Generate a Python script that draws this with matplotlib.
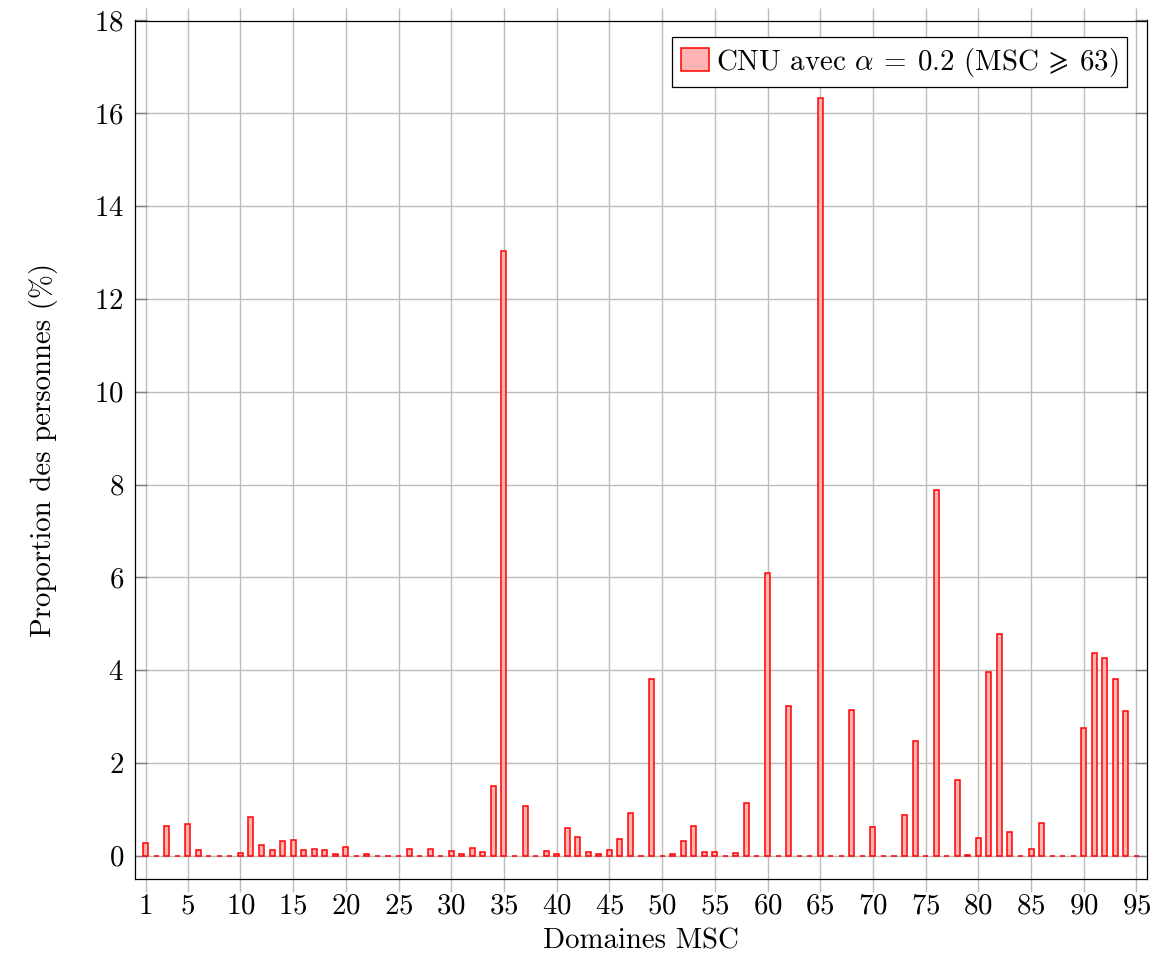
import numpy as np
import matplotlib
matplotlib.use('Agg')
import matplotlib.pyplot as plt

plt.rcParams['font.family'] = 'serif'
plt.rcParams['font.serif'] = ['cmr10', 'DejaVu Serif']
plt.rcParams['mathtext.fontset'] = 'cm'
plt.rcParams['axes.formatter.use_mathtext'] = True

# MSC domain codes 1..95 and share of persons (%)
msc_codes = list(range(1, 96))
proportions = [
    0.27, 0.00, 0.65, 0.00, 0.69, 0.13, 0.00, 0.00, 0.00, 0.06,   # 1-10
    0.84, 0.24, 0.13, 0.32, 0.33, 0.13, 0.14, 0.13, 0.04, 0.18,   # 11-20
    0.00, 0.03, 0.00, 0.00, 0.00, 0.15, 0.00, 0.15, 0.00, 0.11,   # 21-30
    0.03, 0.17, 0.09, 1.50, 13.04, 0.00, 1.08, 0.00, 0.11, 0.03,  # 31-40
    0.60, 0.40, 0.09, 0.03, 0.12, 0.37, 0.93, 0.00, 3.81, 0.00,   # 41-50
    0.04, 0.32, 0.64, 0.08, 0.08, 0.00, 0.05, 1.13, 0.00, 6.09,   # 51-60
    0.00, 3.22, 0.00, 0.00, 16.33, 0.00, 0.00, 3.14, 0.00, 0.62,  # 61-70
    0.00, 0.00, 0.88, 2.48, 0.00, 7.88, 0.00, 1.64, 0.02, 0.39,   # 71-80
    3.97, 4.77, 0.51, 0.00, 0.14, 0.70, 0.00, 0.00, 0.00, 2.76,   # 81-90
    4.36, 4.27, 3.81, 3.13, 0.00,                                 # 91-95
]
x_ticks = [1] + list(range(5, 96, 5))
y_ticks = list(range(0, 19, 2))
legend_label = r'CNU avec $\alpha\:=\:0.2$ (MSC$\:\geqslant\:$63)'

fs = 20.8

fig = plt.figure(figsize=(11.56, 9.6), dpi=100)
ax = fig.add_axes([135/1156, 1 - 879/960, 1012/1156, 858.5/960])

ax.bar(msc_codes, proportions, width=0.48, color='#ffb3b3', edgecolor='red',
       linewidth=1.1, label=legend_label, zorder=3)

ax.set_xlim(0, 96)
ax.set_ylim(-0.5, 18)
ax.set_xticks(x_ticks)
ax.set_yticks(y_ticks)
ax.grid(True, color='#bcbcbc', linewidth=1.0, zorder=0)
ax.set_axisbelow(True)

ax.tick_params(axis='x', which='major', direction='out', length=9.5, width=1.0,
               color='#bcbcbc', top=True, bottom=True, pad=1, labelsize=fs)
ax.tick_params(axis='y', which='major', direction='in', length=8.5, width=1.0,
               color='#808080', left=True, right=True, pad=8, labelsize=fs)

for s in ax.spines.values():
    s.set_linewidth(0.9)
    s.set_color('black')
    s.set_zorder(4)

ax.set_xlabel('Domaines MSC', fontsize=fs, labelpad=6)
ax.set_ylabel('Proportion des personnes (%)', fontsize=fs, labelpad=26)

leg = ax.legend(loc='upper right', bbox_to_anchor=(1 - 20/1012, 1 - 16.5/858.5),
                borderaxespad=0, fontsize=fs, fancybox=False, framealpha=1,
                edgecolor='black', handlelength=0.95, handleheight=0.85,
                handletextpad=0.25, borderpad=0.3)
leg.get_frame().set_linewidth(0.9)
leg.set_zorder(5)

plt.savefig('out.png', dpi=100)
plt.close()
